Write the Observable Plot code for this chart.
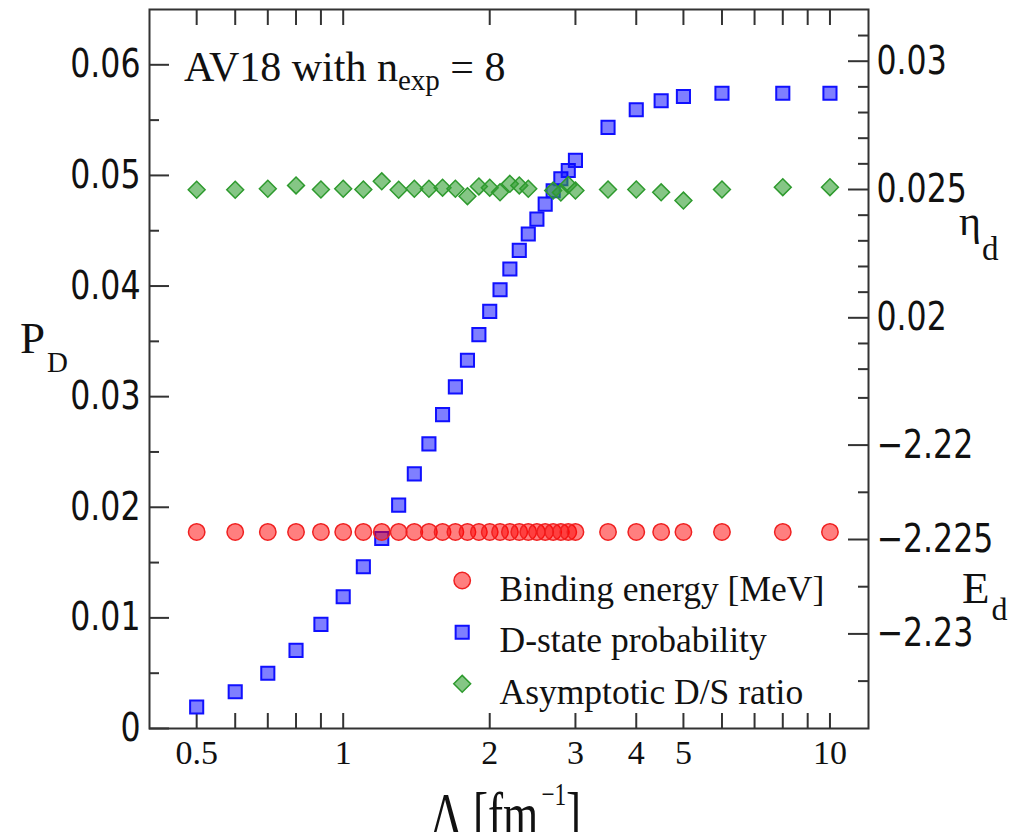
<!DOCTYPE html>
<html>
<head>
<meta charset="utf-8">
<script src="https://cdn.jsdelivr.net/npm/d3@7"></script>
<script src="https://cdn.jsdelivr.net/npm/@observablehq/plot@0.6"></script>
<style>
  html, body { margin: 0; padding: 0; background: #fff; width: 1015px; height: 832px; overflow: hidden; }
</style>
</head>
<body>
<div id="chart"></div>
<script>
// ---- data ----
const lambda = [0.5,0.6,0.7,0.8,0.9,1.0,1.1,1.2,1.3,1.4,1.5,1.6,1.7,1.8,1.9,2.0,2.1,2.2,2.3,2.4,2.5,2.6,2.7,2.8,2.9,3.0,3.5,4,4.5,5,6,8,10];
const pD = [0.00194,0.00332,0.00499,0.00706,0.00941,0.01191,0.01462,0.01718,0.02019,0.02302,0.02573,0.02838,0.03088,0.03329,0.03561,0.03771,0.03967,0.04154,0.04322,0.04470,0.04605,0.04741,0.04862,0.04970,0.05045,0.05136,0.05434,0.05594,0.05675,0.05714,0.05743,0.05743,0.05743];
const Ed = [-2.2246,-2.2246,-2.2246,-2.2246,-2.2246,-2.2246,-2.2246,-2.2246,-2.2246,-2.2246,-2.2246,-2.2246,-2.2246,-2.2246,-2.2246,-2.2246,-2.2246,-2.2246,-2.2246,-2.2246,-2.2246,-2.2246,-2.2246,-2.2246,-2.2246,-2.2246,-2.2246,-2.2246,-2.2246,-2.2246,-2.2246,-2.2246,-2.2246];
const etaLambda = [0.5,0.6,0.7,0.8,0.9,1.0,1.1,1.2,1.3,1.4,1.5,1.6,1.7,1.8,1.9,2.0,2.1,2.2,2.3,2.4,2.7,2.8,2.9,3.0,3.5,4,4.5,5,6,8,10];
const eta = [0.02499,0.02499,0.02503,0.02516,0.02500,0.02503,0.02500,0.02532,0.02499,0.02503,0.02503,0.02507,0.02503,0.02474,0.02512,0.02507,0.02489,0.02522,0.02516,0.02503,0.02496,0.02488,0.02518,0.02496,0.02500,0.02500,0.02489,0.02457,0.02500,0.02509,0.02509];

const xTicks = [0.5,0.6,0.7,0.8,0.9,1,2,3,4,5,6,7,8,9,10];
const xLabels = [0.5,1,2,3,4,5,10];
const pMajor = [0,0.01,0.02,0.03,0.04,0.05,0.06];
const pMinor = [0.005,0.015,0.025,0.035,0.045,0.055];
const etaMajor = [0.02,0.025,0.03];
const etaMinor = [0.018,0.019,0.021,0.022,0.023,0.024,0.026,0.027,0.028,0.029,0.031];
const eMajor = [-2.22,-2.225,-2.23];
const eMinor = [-2.2175,-2.2225,-2.2275,-2.2325];
const legendLabels = ["Binding energy [MeV]","D-state probability","Asymptotic D/S ratio"];

// secondary axes expressed in the P_D scale
const etaToP = v => 0.048727 + (v - 0.025) * 2.3198;
const eToP = v => 0.017086 + (v + 2.225) * 1.7069;

const pdData = lambda.map((x, i) => ({x, y: pD[i]}));
const edData = lambda.map((x, i) => ({x, y: eToP(Ed[i])}));
const etaData = etaLambda.map((x, i) => ({x, y: etaToP(eta[i])}));

const etaLabelMap = new Map(etaMajor.map(v => [etaToP(v), String(v)]));
const eLabelMap = new Map(eMajor.map(v => [eToP(v), String(v).replace("-", "\u2212")]));

const sans = "'DejaVu Sans Condensed', 'DejaVu Sans', sans-serif";
const serif = "'Liberation Serif', 'Times New Roman', serif";
const axc = "#333";

const RED = {fill: "#ff0000", fillOpacity: 0.5, stroke: "#f02020", strokeWidth: 1.5};
const BLUE = {fill: "#0000ff", fillOpacity: 0.5, stroke: "#1010ff", strokeWidth: 2};
const GREEN = {fill: "#33a033", fillOpacity: 0.6, stroke: "#2e9a2e", strokeWidth: 1.5};

const plot = Plot.plot({
  width: 1015,
  height: 850,
  marginLeft: 149,
  marginRight: 147,
  marginTop: 9,
  marginBottom: 122,
  style: {background: "#fff", overflow: "visible"},
  x: {type: "log", domain: [0.4, 12]},
  y: {domain: [0, 0.065]},
  marks: [
    // x ticks (inward, top and bottom)
    Plot.axisX({anchor: "bottom", ticks: xTicks, tickSize: -15, fill: "none", stroke: axc, strokeWidth: 2, label: null}),
    Plot.axisX({anchor: "top", ticks: xTicks, tickSize: -15, fill: "none", stroke: axc, strokeWidth: 2, label: null}),
    Plot.axisX({anchor: "bottom", ticks: xLabels, tickSize: 0, tickPadding: 11, tickFormat: d => String(d),
      fontSize: 34, fontFamily: serif, fill: "#111", label: null}),
    // left P_D axis
    Plot.axisY({anchor: "left", ticks: pMajor, tickSize: -20, fill: "none", stroke: axc, strokeWidth: 2, label: null}),
    Plot.axisY({anchor: "left", ticks: pMinor, tickSize: -10, fill: "none", stroke: axc, strokeWidth: 2, label: null}),
    Plot.axisY({anchor: "left", ticks: pMajor, tickSize: 0, tickPadding: 9, tickFormat: d => String(d),
      fontSize: 39, fontFamily: sans, fill: "#111", label: null}),
    // right eta axis
    Plot.axisY({anchor: "right", ticks: etaMajor.map(etaToP), tickSize: -21, fill: "none", stroke: axc, strokeWidth: 2, label: null}),
    Plot.axisY({anchor: "right", ticks: etaMinor.map(etaToP), tickSize: -11, fill: "none", stroke: axc, strokeWidth: 2, label: null}),
    Plot.axisY({anchor: "right", ticks: etaMajor.map(etaToP), tickSize: 0, tickPadding: 8, tickFormat: d => etaLabelMap.get(d),
      fontSize: 39, fontFamily: sans, fill: "#111", label: null}),
    // right E_d axis
    Plot.axisY({anchor: "right", ticks: eMajor.map(eToP), tickSize: -21, fill: "none", stroke: axc, strokeWidth: 2, label: null}),
    Plot.axisY({anchor: "right", ticks: eMinor.map(eToP), tickSize: -11, fill: "none", stroke: axc, strokeWidth: 2, label: null}),
    Plot.axisY({anchor: "right", ticks: eMajor.map(eToP), tickSize: 0, tickPadding: 8, tickFormat: d => eLabelMap.get(d),
      fontSize: 39, fontFamily: sans, fill: "#111", label: null}),
    Plot.frame({stroke: axc, strokeWidth: 2}),
    // data
    Plot.dot(pdData, {x: "x", y: "y", symbol: "square", r: 7.4, ...BLUE}),
    Plot.dot(edData, {x: "x", y: "y", symbol: "circle", r: 8.2, ...RED}),
    Plot.dot(etaData, {x: "x", y: "y", symbol: "diamond2", r: 7.6, ...GREEN}),
    // legend
    Plot.dot([legendLabels[0]], {frameAnchor: "top-left", dx: 312.7, dy: 571, symbol: "circle", r: 8.2, ...RED}),
    Plot.dot([legendLabels[1]], {frameAnchor: "top-left", dx: 312.7, dy: 622.7, symbol: "square", r: 7.4, ...BLUE}),
    Plot.dot([legendLabels[2]], {frameAnchor: "top-left", dx: 312.7, dy: 674.3, symbol: "diamond2", r: 7.6, ...GREEN}),
    Plot.text([legendLabels[0]], {frameAnchor: "top-left", dx: 350, dy: 566.3, text: d => d, textAnchor: "start", fontSize: 35.5, fontFamily: serif, fill: "#111"}),
    Plot.text([legendLabels[1]], {frameAnchor: "top-left", dx: 350, dy: 616.9, text: d => d, textAnchor: "start", fontSize: 35.5, fontFamily: serif, fill: "#111"}),
    Plot.text([legendLabels[2]], {frameAnchor: "top-left", dx: 350, dy: 669.6, text: d => d, textAnchor: "start", fontSize: 35.5, fontFamily: serif, fill: "#111"})
  ]
});

document.getElementById("chart").appendChild(plot);

// condense the sans tick labels horizontally (reference font is narrow)
d3.select(plot).selectAll('g[aria-label="y-axis tick label"] text').each(function() {
  const t = this.getAttribute("transform") || "";
  this.setAttribute("transform", t + " scale(0.9,1)");
});

// ---- titles with sub/superscripts ----
const svg = d3.select(plot);
function addText(x, y, size, parts, transform) {
  const t = svg.append("text")
    .attr("font-family", serif)
    .attr("text-anchor", "start")
    .attr("fill", "#111");
  if (transform) t.attr("transform", transform); else t.attr("x", x).attr("y", y);
  t.attr("font-size", size);
  parts.forEach(p => {
    const s = t.append("tspan").text(p.text);
    if (p.size) s.attr("font-size", p.size);
    if (p.dy) s.attr("dy", p.dy);
    if (p.dx) s.attr("dx", p.dx);
  });
  return t;
}
// in-plot title
addText(184, 80.7, 42, [
  {text: "AV18 with n"},
  {text: "exp", size: 29, dy: 9.3},
  {text: " = 8", dy: -9.3}
]);
// left axis label
addText(20, 353.3, 45, [
  {text: "P"},
  {text: "D", size: 29, dy: 18.4, dx: 2}
]);
// eta label
addText(959, 235, 42, [
  {text: "\u03b7"},
  {text: "d", size: 33, dy: 25, dx: 1}
]);
// E label
addText(962, 603, 45, [
  {text: "E"},
  {text: "d", size: 32, dy: 17, dx: 2}
]);
// x-axis label (condensed)
addText(null, null, 62, [
  {text: "\u039b [fm"},
  {text: "\u22121", size: 32, dy: -29.7, dx: 4},
  {text: "]", dy: 29.7}
], "translate(430,834.7) scale(0.73,1)");
</script>
</body>
</html>
